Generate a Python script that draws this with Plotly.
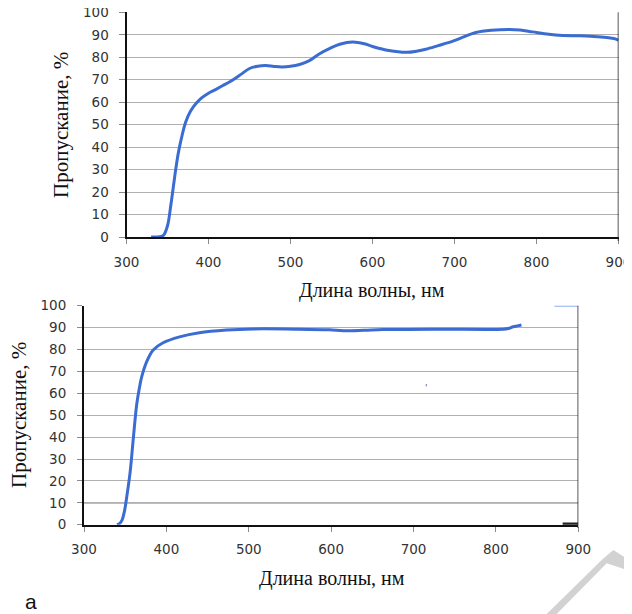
import plotly.graph_objects as go

# the page body adds an 8px margin, so the figure is 8px smaller on each axis
OFF = 8
W, H = 632 - OFF, 614 - OFF

# ---- data: top panel ----
wl_top = [330, 340, 345, 350, 354, 357, 360, 363, 367, 372, 378, 385, 392, 400,
          408, 417, 430, 440, 450, 460, 470, 480, 490, 500, 511, 523, 535, 548,
          560, 576, 590, 600, 620, 641, 655, 665, 680, 698, 712, 726, 745, 767,
          780, 795, 815, 832, 850, 860, 875, 890, 897, 900]
tr_top = [0.0, 0.1, 0.7, 5.0, 14.0, 22.0, 30.0, 37.0, 44.0, 51.0, 56.0, 59.5, 62.0, 64.0,
          65.5, 67.3, 70.0, 72.5, 75.0, 76.0, 76.3, 75.9, 75.7, 76.0, 76.8, 78.5, 81.5, 84.0,
          85.8, 86.8, 86.0, 84.8, 83.0, 82.2, 82.8, 83.6, 85.2, 87.2, 89.2, 91.0, 92.0, 92.4,
          92.1, 91.3, 90.2, 89.7, 89.6, 89.5, 89.1, 88.6, 88.1, 87.6]

# ---- data: bottom panel ----
wl_bot = [340, 343, 346, 349, 352, 356, 360, 364, 367, 370, 376, 384, 396, 416,
          440, 473, 505, 560, 598, 615, 640, 663, 724, 809, 815, 821, 826, 831]
tr_bot = [0.0, 0.5, 2.0, 6.0, 13.0, 24.0, 40.0, 55.0, 62.0, 67.5, 74.4, 79.8, 83.1, 85.8,
          87.7, 88.9, 89.4, 89.3, 89.0, 88.6, 88.8, 89.1, 89.3, 89.3, 89.6, 90.4, 90.8, 91.2]
# small stray segments visible in the bottom panel
wl_stray_top = [871, 900]
tr_stray_top = [100, 100]
wl_stray_bot = [881, 900]
tr_stray_bot = [0.4, 0.4]

x_ticks = [300, 400, 500, 600, 700, 800, 900]
y_ticks = [0, 10, 20, 30, 40, 50, 60, 70, 80, 90, 100]

x_title = "Длина волны, нм"
y_title = "Пропускание, %"

BLUE = "#3a6cd2"
GRID = "#b0b0b0"
TICKC = "#8a8a8a"
TICKFONT = dict(family="DejaVu Sans", size=13.5, color="#333333")
XTITLEFONT = dict(family="Liberation Serif", size=20, color="#111111")
YTITLEFONT = dict(family="Liberation Serif", size=21, color="#111111")

def px_x(p):
    return (p - OFF) / W

def px_y(p):
    return 1 - (p - OFF) / H

fig = go.Figure()
fig.add_trace(go.Scatter(x=wl_top, y=tr_top, mode="lines", line=dict(color=BLUE, width=3, shape="spline"),
                         xaxis="x", yaxis="y", showlegend=False))
fig.add_trace(go.Scatter(x=wl_bot, y=tr_bot, mode="lines", line=dict(color=BLUE, width=3, shape="spline"),
                         xaxis="x2", yaxis="y2", showlegend=False))
fig.add_trace(go.Scatter(x=wl_stray_top, y=tr_stray_top, mode="lines", line=dict(color="#8fb0ef", width=2),
                         xaxis="x2", yaxis="y2", showlegend=False, cliponaxis=False))
fig.add_trace(go.Scatter(x=wl_stray_bot, y=tr_stray_bot, mode="lines", line=dict(color="#222222", width=2.5),
                         xaxis="x2", yaxis="y2", showlegend=False, cliponaxis=False))

def xax(domain, anchor, standoff):
    return dict(domain=domain, anchor=anchor, range=[300, 900], tickvals=x_ticks,
                showgrid=False, zeroline=False, showline=True, linecolor="#111111", linewidth=2,
                ticks="outside", ticklen=5, tickcolor=TICKC, tickwidth=1, automargin=False,
                tickfont=TICKFONT, ticklabelstandoff=standoff, ticklabeloverflow="allow",
                fixedrange=True)

def yax(domain, anchor, ticklen, standoff):
    return dict(domain=domain, anchor=anchor, range=[0, 100.02], tickvals=y_ticks,
                showgrid=True, gridcolor=GRID, gridwidth=1, zeroline=False,
                showline=True, linecolor="#111111", linewidth=2, automargin=False,
                ticks="outside", ticklen=ticklen, tickcolor=TICKC, tickwidth=1,
                tickfont=TICKFONT, ticklabelstandoff=standoff, ticklabeloverflow="allow",
                fixedrange=True)

fig.update_layout(
    width=W, height=H, margin=dict(l=0, r=0, t=0, b=0, autoexpand=False),
    paper_bgcolor="white", plot_bgcolor="white",
    xaxis=xax([px_x(126.5), px_x(618.5)], "y", 7),
    yaxis=yax([px_y(237), px_y(12.3)], "x", 6, 7),
    xaxis2=xax([px_x(84), px_x(578.3)], "y2", 6),
    yaxis2=yax([px_y(524.7), px_y(305.7)], "x2", 5, 8),
)

shapes = [
    # right borders
    dict(type="line", xref="x", yref="paper", x0=900, x1=900, y0=px_y(12.3), y1=px_y(241),
         line=dict(color="#222222", width=1.5)),
    dict(type="line", xref="x2", yref="paper", x0=900, x1=900, y0=px_y(305.7), y1=px_y(528),
         line=dict(color="#222222", width=1.5)),
    # darker gridline at 10 in the bottom panel
    dict(type="line", xref="x2", yref="y2", x0=300, x1=900, y0=10, y1=10,
         line=dict(color="#222222", width=1), layer="below"),
]
# watermark chevron
pts = [(613.3, 550), (632, 561.7), (632, 571.7), (606.7, 563.3), (556.7, 614), (546.7, 614), (601.7, 560)]
path = "M " + " L ".join(f"{px_x(a):.5f},{px_y(b):.5f}" for a, b in pts) + " Z"
shapes.append(dict(type="path", xref="paper", yref="paper", path=path,
                   fillcolor="#d2d2d2", line=dict(width=0), layer="above"))
fig.update_layout(shapes=shapes)

ann = [
    dict(text=y_title, x=px_x(61), y=px_y(125), textangle=-90, font=YTITLEFONT),
    dict(text=x_title, x=px_x(372), y=px_y(290), font=XTITLEFONT),
    dict(text=y_title, x=px_x(19), y=px_y(415), textangle=-90, font=YTITLEFONT),
    dict(text=x_title, x=px_x(332), y=px_y(578), font=XTITLEFONT),
    dict(text="a", x=px_x(31), y=px_y(601), font=dict(family="Liberation Sans", size=21, color="#111111")),
    dict(text="'", x=px_x(426), y=px_y(388), font=dict(family="DejaVu Sans", size=9, color="#555555")),
]
for a in ann:
    a.update(xref="paper", yref="paper", showarrow=False, xanchor="center", yanchor="middle")
fig.update_layout(annotations=ann)

fig.write_html("out.html")
